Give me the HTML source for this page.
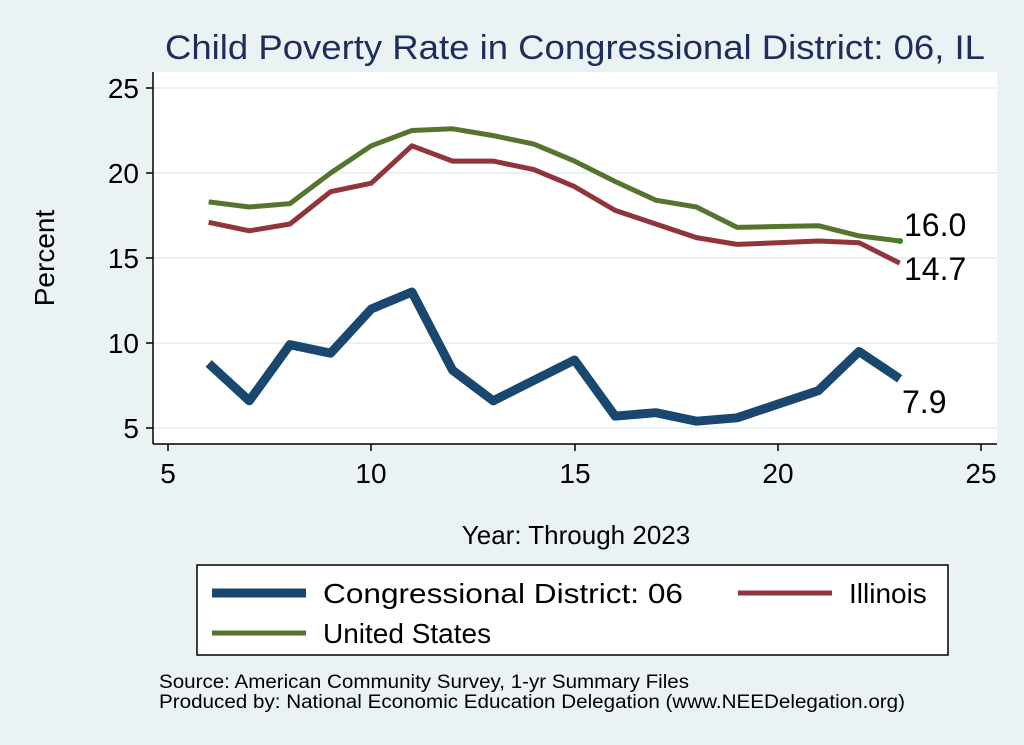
<!DOCTYPE html>
<html><head><style>
body{margin:0;background:#eaf2f3;}
svg{display:block;font-family:"Liberation Sans",Arial,sans-serif;}
</style></head><body>
<svg width="1024" height="745" viewBox="0 0 1024 745">
<rect width="1024" height="745" fill="#eaf2f3"/>
<text x="165" y="59" font-size="34" fill="#1e2d5c" textLength="820" lengthAdjust="spacingAndGlyphs">Child Poverty Rate in Congressional District:  06, IL</text>
<rect x="153" y="72" width="844" height="372" fill="#fff"/>
<g stroke="#eaf2f3" stroke-width="2">
<line x1="153" x2="997" y1="88" y2="88"/><line x1="153" x2="997" y1="173" y2="173"/>
<line x1="153" x2="997" y1="258" y2="258"/><line x1="153" x2="997" y1="343" y2="343"/>
<line x1="153" x2="997" y1="428" y2="428"/>
</g>
<g stroke="#000" stroke-width="1.5">
<line x1="153" x2="153" y1="72" y2="444"/><line x1="153" x2="997" y1="444" y2="444"/>
<line x1="146" x2="153" y1="88" y2="88"/><line x1="146" x2="153" y1="173" y2="173"/>
<line x1="146" x2="153" y1="258" y2="258"/><line x1="146" x2="153" y1="343" y2="343"/>
<line x1="146" x2="153" y1="428" y2="428"/>
<line x1="168" x2="168" y1="444" y2="451"/><line x1="371" x2="371" y1="444" y2="451"/>
<line x1="575" x2="575" y1="444" y2="451"/><line x1="778" x2="778" y1="444" y2="451"/>
<line x1="981" x2="981" y1="444" y2="451"/>
</g>
<g font-size="28" fill="#000" text-anchor="end">
<text x="139" y="98">25</text><text x="139" y="183">20</text><text x="139" y="268">15</text>
<text x="139" y="353">10</text><text x="139" y="438">5</text>
</g>
<g font-size="28" fill="#000" text-anchor="middle">
<text x="168" y="483">5</text><text x="371" y="483">10</text><text x="575" y="483">15</text>
<text x="778" y="483">20</text><text x="981" y="483">25</text>
</g>
<text x="54" y="258" font-size="28" text-anchor="middle" transform="rotate(-90 54 258)">Percent</text>
<text x="576" y="544" font-size="26" text-anchor="middle">Year: Through 2023</text>
<g transform="matrix(40.65 0 0 -17 -35.25 513)" fill="none" stroke-linejoin="round">
<polyline vector-effect="non-scaling-stroke" stroke="#55752f" stroke-width="5" points="6,18.3 7,18.0 8,18.2 9,20.0 10,21.6 11,22.5 12,22.6 13,22.2 14,21.7 15,20.7 16,19.5 17,18.4 18,18.0 19,16.8 20,16.85 21,16.9 22,16.3 23,16.0"/>
<polyline vector-effect="non-scaling-stroke" stroke="#90353b" stroke-width="5" points="6,17.1 7,16.6 8,17.0 9,18.9 10,19.4 11,21.6 12,20.7 13,20.7 14,20.2 15,19.2 16,17.8 17,17.0 18,16.2 19,15.8 20,15.9 21,16.0 22,15.9 23,14.7"/>
<polyline vector-effect="non-scaling-stroke" stroke="#1a476f" stroke-width="9" points="6,8.8 7,6.6 8,9.9 9,9.4 10,12.0 11,13.0 12,8.4 13,6.6 14,7.8 15,9.0 16,5.7 17,5.9 18,5.4 19,5.6 20,6.4 21,7.2 22,9.5 23,7.9"/>
</g>
<circle cx="900" cy="241" r="3" fill="#2a8a2a"/>
<g font-size="32" fill="#000">
<text x="904" y="236">16.0</text><text x="904" y="280">14.7</text><text x="902" y="413">7.9</text>
</g>
<rect x="197" y="565" width="751" height="90" fill="#fff" stroke="#000" stroke-width="1.5"/>
<line x1="212" x2="306" y1="593" y2="593" stroke="#1a476f" stroke-width="9"/>
<line x1="738" x2="832" y1="593" y2="593" stroke="#90353b" stroke-width="5"/>
<line x1="212" x2="306" y1="633" y2="633" stroke="#55752f" stroke-width="5"/>
<g font-size="28" fill="#000">
<text x="323" y="603" textLength="360" lengthAdjust="spacingAndGlyphs">Congressional District:  06</text>
<text x="849" y="603">Illinois</text>
<text x="323" y="643">United States</text>
</g>
<g font-size="19" fill="#000">
<text x="159" y="688" textLength="530" lengthAdjust="spacingAndGlyphs">Source: American Community Survey, 1-yr Summary Files</text>
<text x="159" y="708" textLength="746" lengthAdjust="spacingAndGlyphs">Produced by: National Economic Education Delegation (www.NEEDelegation.org)</text>
</g>
</svg>
</body></html>
